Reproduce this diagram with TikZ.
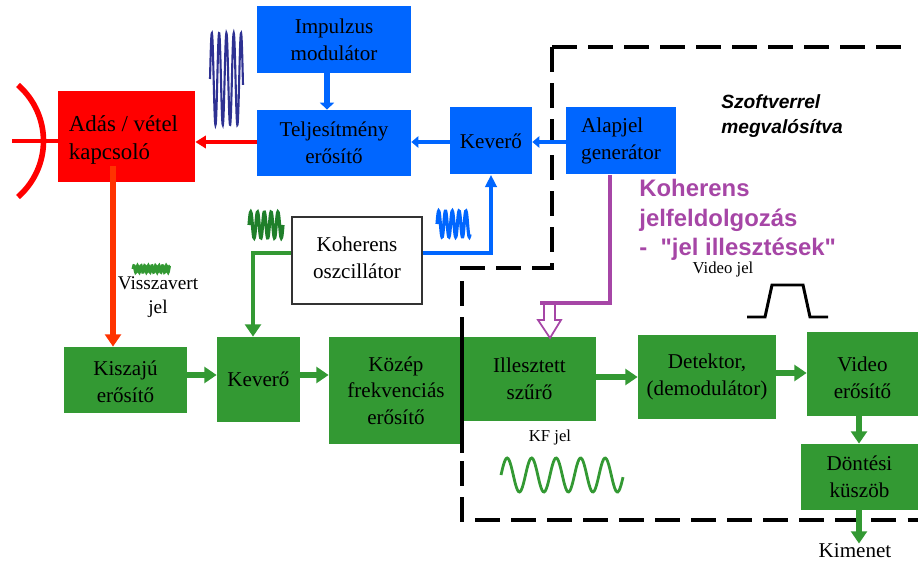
\documentclass[tikz,border=0pt]{standalone}
\usepackage{fontspec}
\setmainfont{Liberation Serif}
\newfontfamily\labelfont{Liberation Sans}
\usetikzlibrary{arrows.meta}

\definecolor{radarblue}{HTML}{0066FF}
\definecolor{radarred}{HTML}{FF0000}
\definecolor{radarorange}{HTML}{FF3300}
\definecolor{radargreen}{HTML}{339933}
\definecolor{radarpurple}{HTML}{A646A6}
\definecolor{wavenavy}{HTML}{2E3192}
\definecolor{wavegreen}{HTML}{1F7F2A}

\tikzset{
	boxsize/.style 2 args={minimum width=#1*0.02cm,minimum height=#2*0.02cm,inner sep=0pt,align=center,font=\fontsize{12}{15.2}\selectfont},
	bluebox/.style={fill=radarblue},
	redbox/.style={fill=radarred},
	greenbox/.style={fill=radargreen},
	whitebox/.style={draw=black!80,line width=1pt,fill=white},
	sig/.style={line width=3pt,-{Triangle[length=7pt,width=9pt]}},
	thinsig/.style={radarblue,line width=2.2pt,-{Triangle[length=4pt,width=6.5pt]}},
	smalllabel/.style={inner sep=0pt,align=center,font=\fontsize{11}{13.6}\selectfont},
	dashframe/.style={line width=2.4pt,dash pattern=on 14pt off 6.5pt}
}

\begin{document}
\begin{tikzpicture}[x=0.02cm,y=-0.02cm]
	\useasboundingbox (0,0) rectangle (918,563);

	% frame of the software part
	\draw[dashframe] (552,47) -- (907,47);
	\draw[dashframe] (552,47) -- (552,268) -- (462,268) -- (462,520) -- (918,520);

	% boxes
	\node[boxsize={154}{67},bluebox] (impulzus) at (334,39.5) {Impulzus\\modulátor};
	\node[boxsize={137}{91},redbox,align=left,font=\fontsize{13}{16}\selectfont] (adas) at (126.5,136.5) {\rule{0pt}{13.5pt}Adás / vétel\hspace*{0.12cm}\\kapcsoló};
	\node[boxsize={154}{66},bluebox] (teljesitmeny) at (334,143) {Teljesítmény\\erősítő};
	\node[boxsize={82}{67},bluebox] (kevero1) at (491,141) {Keverő};
	\node[boxsize={110}{67},bluebox,align=left] (alapjel) at (621,141) {Alapjel\\generátor};
	\node[boxsize={130}{87},whitebox] (oszcillator) at (357,260.5) {Koherens\\oszcillátor\rule[-3.4pt]{0pt}{0pt}};
	\node[boxsize={123}{66},greenbox] (kiszaju) at (125.5,380) {\rule{0pt}{10.5pt}Kiszajú\\erősítő};
	\node[boxsize={83}{85},greenbox] (kevero2) at (258.5,379.5) {Keverő};
	\node[boxsize={134}{107},greenbox] (kozep) at (396,390.5) {Közép\\frekvenciás\\erősítő};
	\node[boxsize={133}{84},greenbox] (illesztett) at (529.5,379) {Illesztett\\szűrő};
	\node[boxsize={138}{84},greenbox] (detektor) at (707,377) {Detektor,\\(demodulátor)};
	\node[boxsize={111}{84},greenbox] (video) at (862.5,374) {\rule{0pt}{12.8pt}Video\\erősítő};
	\node[boxsize={117}{66},greenbox] (dontesi) at (859.5,477) {Döntési\\küszöb};

	\draw[line width=2.4pt] (462,325) -- (462,453);

	% labels
	\node[smalllabel] (visszavert) at (158,297) {Visszavert\\jel};
	\node[smalllabel,font=\fontsize{9.5}{12}\selectfont] (videojel) at (723,269) {Video jel};
	\node[smalllabel,font=\fontsize{9.5}{12}\selectfont] (kfjel) at (550,437) {KF jel};
	\node[smalllabel,font=\fontsize{12}{14}\selectfont] (kimenet) at (855,551) {Kimenet};
	\node[inner sep=0pt,align=left,font=\fontsize{10.9}{14.7}\selectfont\labelfont\bfseries\itshape] (szoftver) at (782,116) {Szoftverrel\\megvalósítva};
	\node[inner sep=0pt,align=left,text=radarpurple,font=\fontsize{13.6}{16.8}\selectfont\labelfont\bfseries,anchor=west] (koherens) at (639,220) {Koherens\\jelfeldolgozás\\-\ \ "jel illesztések"};

	% helper coordinates
	\coordinate (tx-y) at (0,142);
	\coordinate (lo-y) at (0,253);
	\coordinate (rx-y) at (0,375);
	\coordinate (det-y) at (0,377);
	\coordinate (vid-y) at (0,373);
	\coordinate (mod-x) at (327,0);
	\coordinate (rx-x) at (113,0);
	\coordinate (lo-x) at (253,0);
	\coordinate (mix-x) at (491,0);
	\coordinate (gen-x) at (610,0);
	\coordinate (out-x) at (859,0);
	\coordinate (feed) at (12,141);
	\coordinate (purple-end) at (540,303);

	% connectors
	\draw[radarred,line width=2.6pt,-{Triangle[length=6pt,width=7pt]}] (tx-y-|teljesitmeny.west) -- (tx-y-|adas.east);
	\draw[sig,radarorange,shorten <=-0.32cm] (rx-x|-adas.south) -- (rx-x|-kiszaju.north);
	\draw[sig,radarblue,-{Triangle[length=4pt,width=8pt]}] (mod-x|-impulzus.south) -- (mod-x|-teljesitmeny.north);
	\draw[thinsig] (tx-y-|kevero1.west) -- (tx-y-|teljesitmeny.east);
	\draw[thinsig] (tx-y-|alapjel.west) -- (tx-y-|kevero1.east);
	\draw[thinsig,-{Triangle[length=7pt,width=6.5pt]}] (lo-y-|oszcillator.east) -| (mix-x|-kevero1.south);
	\draw[sig,radargreen,line width=2.2pt] (lo-y-|oszcillator.west) -| (lo-x|-kevero2.north);
	\draw[sig,radargreen] (rx-y-|kiszaju.east) -- (rx-y-|kevero2.west);
	\draw[sig,radargreen] (rx-y-|kevero2.east) -- (rx-y-|kozep.west);
	\draw[sig,radargreen] (det-y-|illesztett.east) -- (det-y-|detektor.west);
	\draw[sig,radargreen] (vid-y-|detektor.east) -- (vid-y-|video.west);
	\draw[sig,radargreen] (out-x|-video.south) -- (out-x|-dontesi.north);
	\draw[sig,radargreen] (out-x|-dontesi.south) -- (out-x|-kimenet.north);
	\draw[radarpurple,line width=2.4pt] (gen-x|-alapjel.south) |- (purple-end);
	\draw[radarpurple,line width=1pt,fill=white] (544,304) -- (555,304) -- (555,320) -- (561,320) -- (550,338) -- (538,320) -- (544,320) -- cycle;

	% antenna
	\draw[radarred,line width=3.2pt] (18,85) .. controls (52,115) and (52,167) .. (18,197);
	\draw[radarred,line width=1.8pt] (feed) -- (adas.west|-feed);

	% waveforms
	\draw[wavenavy,line width=1.2pt] plot[smooth,samples=140,domain=210:243] (\x,{79-46*sin((\x-210)/7.3*360)});
	\draw[wavegreen,line width=1.8pt] plot[smooth,samples=100,domain=249:283] (\x,{225-13*sin((\x-249)/6.8*360)});
	\draw[radarblue,line width=1.8pt] plot[smooth,samples=100,domain=437:470] (\x,{224-13*sin((\x-437)/6.8*360)});
	\draw[radargreen,line width=1.6pt] plot[smooth,samples=100,domain=133:170] (\x,{269-3.5*sin((\x-133)/3.6*360)});
	\draw[radargreen,line width=1.6pt] plot[smooth,samples=120,domain=501:623] (\x,{475-17*sin((\x-501)/24.5*360)});
	\draw[black,line width=1.7pt] (747,317) -- (765,317) -- (772,285) -- (803,285) -- (810,317) -- (828,317);
\end{tikzpicture}
\end{document}
